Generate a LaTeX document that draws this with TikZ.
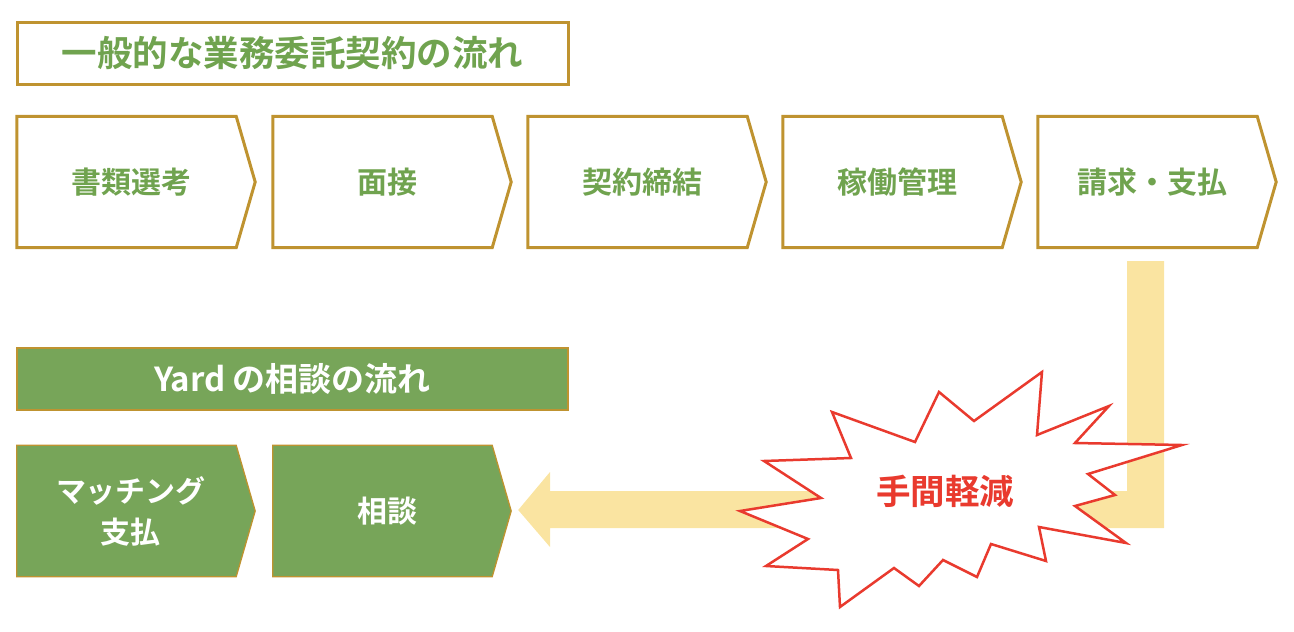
\documentclass[tikz,border=0pt]{standalone}
\usepackage{fontspec}
\newfontfamily\jp[BoldFont={Noto Sans CJK JP Bold}]{Noto Sans CJK JP}
\usetikzlibrary{calc,backgrounds}
\definecolor{gold}{HTML}{BF9330}
\definecolor{gtext}{HTML}{70A34F}
\definecolor{gfill}{HTML}{77A559}
\definecolor{ylw}{HTML}{FAE4A1}
\definecolor{rd}{HTML}{E93A2E}
\begin{document}
\begin{tikzpicture}[x=1pt,y=-1pt,
  chev/.style={minimum width=228pt, minimum height=131pt, inner sep=0pt, align=center,
    font=\jp\bfseries\fontsize{30}{41}\selectfont},
  chevw/.style={chev, text=gtext},
  chevg/.style={chev, text=white},
  outlinew/.style={draw=gold, line width=3pt, line join=miter},
  outlineg/.style={draw=gold, fill=gfill, line width=1.3pt, line join=miter},
  titlebox/.style={minimum width=551pt, minimum height=62pt, inner sep=0pt,
    font=\jp\bfseries\fontsize{35.5}{40}\selectfont},
]
\useasboundingbox (0,0) rectangle (1294,632);

% titles
\node[titlebox, draw=gold, line width=3pt, text=gtext] (t1) at (292.5,53) {一般的な業務委託契約の流れ};
\node[titlebox, draw=gold, fill=gfill, line width=2pt, text=white,
  font=\jp\bfseries\fontsize{33}{38}\selectfont] (t2) at (292.5,379) {Yard の相談の流れ};

% row 1
\node[chevw] (a1) at (131,182) {書類選考};
\node[chevw] (a2) at (387,182) {面接};
\node[chevw] (a3) at (642,182) {契約締結};
\node[chevw] (a4) at (897,182) {稼働管理};
\node[chevw] (a5) at (1152,182) {請求・支払};
\foreach \n in {a1,a2,a3,a4,a5}
  \draw[outlinew] (\n.north west) -- ($(\n.north east)+(-9,0)$) -- ($(\n.east)+(10,0)$)
    -- ($(\n.south east)+(-9,0)$) -- (\n.south west) -- cycle;

% row 2
\node[chevg] (b1) at (131,511) {マッチング\\支払};
\node[chevg] (b2) at (387,511) {相談};
\begin{scope}[on background layer]
\foreach \n in {b1,b2}
  \draw[outlineg] (\n.north west) -- ($(\n.north east)+(-9,0)$) -- ($(\n.east)+(10,0)$)
    -- ($(\n.south east)+(-9,0)$) -- (\n.south west) -- cycle;
\end{scope}

% yellow arrow
\fill[ylw] (1127,261) -- (1164,261) -- (1164,528) -- (550,528) -- (550,547)
  -- ($(b2.east)+(17,-1)$) -- (550,472) -- (550,491) -- (1127,491) -- cycle;

% starburst
\draw[rd, line width=2.5pt, fill=white, line join=miter]
  (1042,372) -- (1037,435) -- (1109,406) -- (1075,443) -- (1182,445) -- (1088,474)
  -- (1115,495) -- (1075,506) -- (1126,543) -- (1039,527) -- (1046,561) -- (991,544)
  -- (977,577) -- (943,560) -- (919,586) -- (894,568) -- (840,607) -- (838,570)
  -- (766,566) -- (808,539) -- (740,511) -- (821,498) -- (764,461) -- (851,458)
  -- (832,412) -- (915,442) -- (939,392) -- (974,421) -- cycle;
\node[text=rd, font=\jp\bfseries\fontsize{34.5}{40}\selectfont] (burst) at (945,491) {手間軽減};
\end{tikzpicture}
\end{document}
